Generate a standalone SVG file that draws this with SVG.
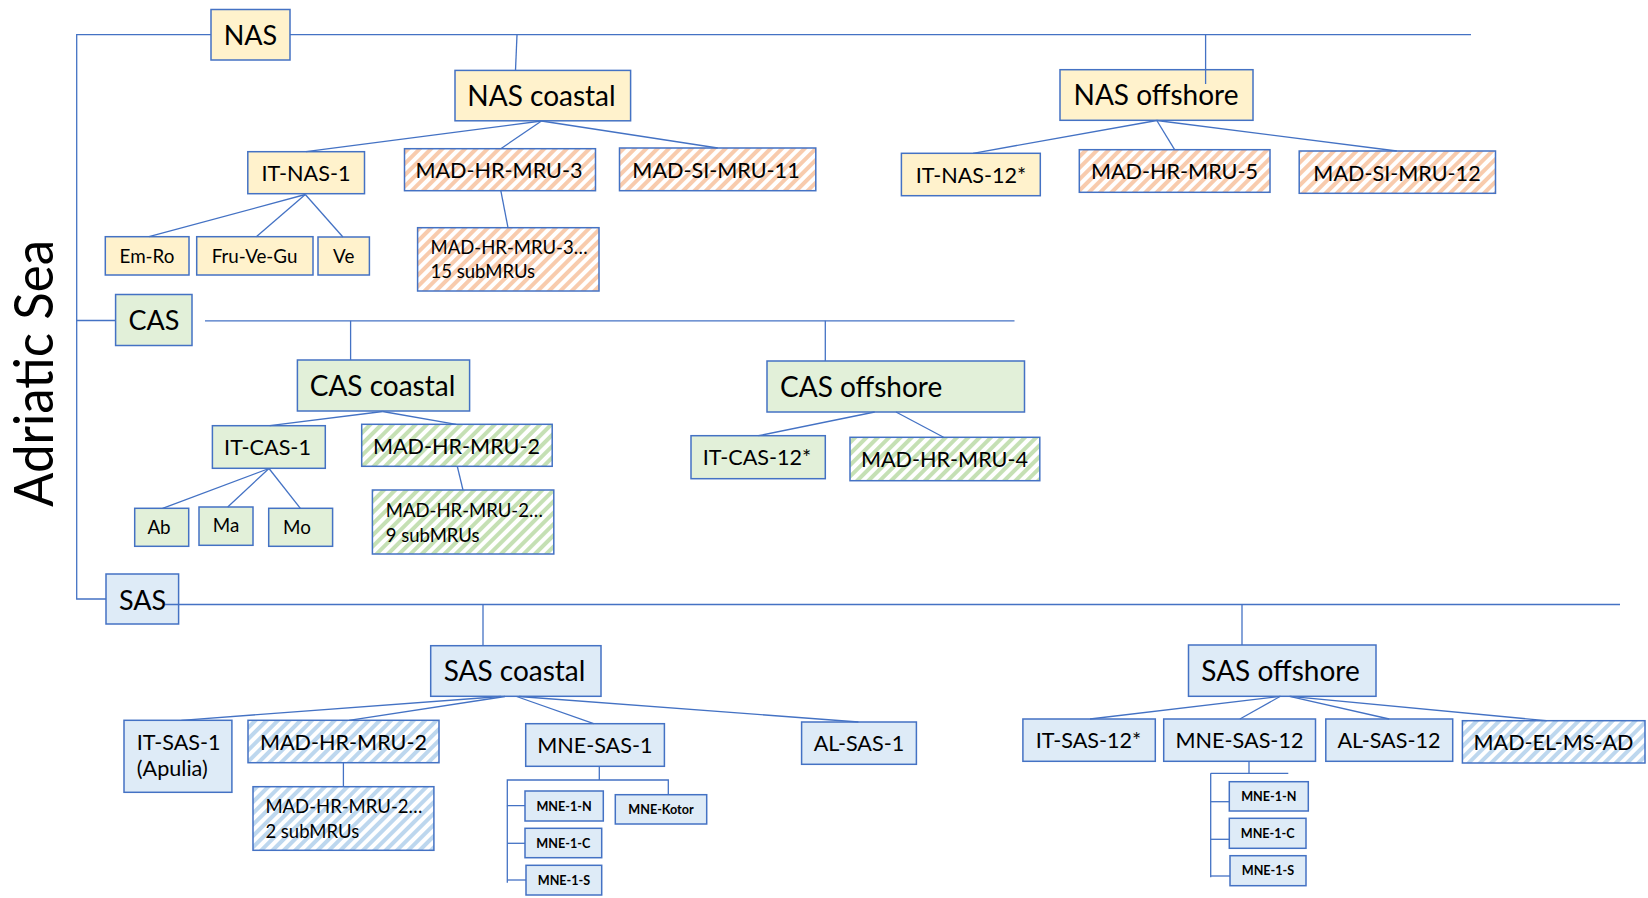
<svg xmlns="http://www.w3.org/2000/svg" width="1648" height="898" viewBox="0 0 1648 898">
<style>
.b{stroke:#4472C4;stroke-width:1.5}
.y{fill:#FFF2CC}.g{fill:#E2F0D9}.u{fill:#DEEBF7}
.ho{fill:url(#hO)}.hg{fill:url(#hG)}.hu{fill:url(#hU)}
.c line,.c path{stroke:#4472C4;stroke-width:1.3;fill:none}
text{font-family:Lato,"Liberation Sans",Arial,sans-serif;fill:#000}
.m{text-anchor:middle}
.t1{font-size:27px}
.t2{font-size:28px}
.t3{font-size:21.6px}
.t4{font-size:18.8px}
.t5{font-size:18.5px}
.t6{font-size:12.6px;font-weight:bold}
</style>
<defs>
<pattern id="hO" patternUnits="userSpaceOnUse" width="8" height="8" patternTransform="rotate(45)"><rect width="8" height="8" fill="#fff"/><rect width="4" height="8" fill="#F8CBAD"/></pattern>
<pattern id="hG" patternUnits="userSpaceOnUse" width="8" height="8" patternTransform="rotate(45)"><rect width="8" height="8" fill="#fff"/><rect width="4" height="8" fill="#C5E0B4"/></pattern>
<pattern id="hU" patternUnits="userSpaceOnUse" width="8" height="8" patternTransform="rotate(45)"><rect width="8" height="8" fill="#fff"/><rect width="4" height="8" fill="#BDD7EE"/></pattern>
</defs>
<rect width="1648" height="898" fill="#fff"/>
<text id="title" class="m" transform="translate(53,373.5) rotate(-90)" font-size="54" textLength="267" lengthAdjust="spacingAndGlyphs">Adriatic Sea</text>

<g id="NAS"><rect class="b y" x="211" y="9.5" width="79" height="50.5"/><text class="t1 m" x="250.5" y="44.5">NAS</text></g>
<g id="NAS-coastal"><rect class="b y" x="455" y="70.4" width="175.6" height="50.4"/><text class="t2 m" x="541.5" y="105.5">NAS coastal</text></g>
<g id="NAS-offshore"><rect class="b y" x="1060" y="69.7" width="193" height="50.6"/><text class="t2 m" x="1156" y="105">NAS offshore</text></g>
<g id="IT-NAS-1"><rect class="b y" x="247.8" y="151.7" width="116.7" height="42"/><text class="t3 m" x="306" y="180.5">IT-NAS-1</text></g>
<g id="MAD-HR-MRU-3"><rect class="b ho" x="404.5" y="148.7" width="191" height="42"/><text class="t3 m" x="499" y="178">MAD-HR-MRU-3</text></g>
<g id="MAD-SI-MRU-11"><rect class="b ho" x="619.5" y="148" width="196.3" height="42.7"/><text class="t3 m" x="716" y="177.5">MAD-SI-MRU-11</text></g>
<g id="Em-Ro"><rect class="b y" x="105.3" y="236.7" width="83.7" height="38.3"/><text class="t4 m" x="147" y="262.5">Em-Ro</text></g>
<g id="Fru-Ve-Gu"><rect class="b y" x="196.7" y="236.7" width="116.3" height="38.3"/><text class="t4 m" x="254.5" y="262.5">Fru-Ve-Gu</text></g>
<g id="Ve"><rect class="b y" x="318" y="237" width="51.4" height="38"/><text class="t4 m" x="343.7" y="262.5">Ve</text></g>
<g id="MAD-HR-MRU-3-sub"><rect class="b ho" x="417.6" y="227.7" width="181.4" height="63.3"/><text class="t5" x="430.6" y="254">MAD-HR-MRU-3…</text><text class="t5" x="430.6" y="278.3">15 subMRUs</text></g>
<g id="IT-NAS-12"><rect class="b y" x="901.4" y="153.3" width="138.9" height="42.4"/><text class="t3 m" x="971" y="183">IT-NAS-12*</text></g>
<g id="MAD-HR-MRU-5"><rect class="b ho" x="1079.3" y="149.7" width="190.7" height="42.6"/><text class="t3 m" x="1174.5" y="179">MAD-HR-MRU-5</text></g>
<g id="MAD-SI-MRU-12"><rect class="b ho" x="1299.2" y="151" width="196.3" height="42.3"/><text class="t3 m" x="1397" y="180.5">MAD-SI-MRU-12</text></g>

<g id="CAS"><rect class="b g" x="115.6" y="294.5" width="76.4" height="51"/><text class="t1 m" x="154" y="330">CAS</text></g>
<g id="CAS-coastal"><rect class="b g" x="297.4" y="360" width="172.2" height="51"/><text class="t2 m" x="382.5" y="395.5">CAS coastal</text></g>
<g id="CAS-offshore"><rect class="b g" x="767" y="361" width="257.5" height="51"/><text class="t2" x="780" y="396.5">CAS offshore</text></g>
<g id="IT-CAS-1"><rect class="b g" x="212.4" y="425.7" width="112.9" height="42.6"/><text class="t3 m" x="267.5" y="455">IT-CAS-1</text></g>
<g id="MAD-HR-MRU-2-CAS"><rect class="b hg" x="361.7" y="424.3" width="190.5" height="42"/><text class="t3 m" x="456.5" y="453.5">MAD-HR-MRU-2</text></g>
<g id="Ab"><rect class="b g" x="134.7" y="508.3" width="54" height="38"/><text class="t4 m" x="159" y="534">Ab</text></g>
<g id="Ma"><rect class="b g" x="199" y="507" width="54" height="38.3"/><text class="t4 m" x="226" y="531.5">Ma</text></g>
<g id="Mo"><rect class="b g" x="268.7" y="508.3" width="63.9" height="38"/><text class="t4 m" x="297" y="534">Mo</text></g>
<g id="MAD-HR-MRU-2-CAS-sub"><rect class="b hg" x="372.4" y="490" width="181.4" height="64"/><text class="t5" x="385.8" y="516.7">MAD-HR-MRU-2…</text><text class="t5" x="385.8" y="542.3">9 subMRUs</text></g>
<g id="IT-CAS-12"><rect class="b g" x="691" y="435.7" width="134.3" height="43"/><text class="t3 m" x="757" y="464.5">IT-CAS-12*</text></g>
<g id="MAD-HR-MRU-4"><rect class="b hg" x="850" y="437.3" width="189.8" height="43.4"/><text class="t3 m" x="944.5" y="467">MAD-HR-MRU-4</text></g>

<g id="SAS"><rect class="b u" x="106" y="574" width="72.6" height="50"/><text class="t1 m" x="142.5" y="609.5">SAS</text></g>
<g id="SAS-coastal"><rect class="b u" x="430.7" y="645.7" width="170.3" height="50.6"/><text class="t2 m" x="514.5" y="681">SAS coastal</text></g>
<g id="SAS-offshore"><rect class="b u" x="1188.5" y="645" width="187.5" height="51.3"/><text class="t2 m" x="1280.5" y="680.5">SAS offshore</text></g>
<g id="IT-SAS-1"><rect class="b u" x="124" y="720.3" width="107.9" height="72"/><text class="t3" x="136.8" y="750">IT-SAS-1</text><text class="t3" x="136.8" y="776">(Apulia)</text></g>
<g id="MAD-HR-MRU-2-SAS"><rect class="b hu" x="248" y="720.3" width="191" height="42.4"/><text class="t3 m" x="343.5" y="749.5">MAD-HR-MRU-2</text></g>
<g id="MNE-SAS-1"><rect class="b u" x="525.7" y="723.7" width="138.7" height="42.6"/><text class="t3 m" x="594.8" y="753">MNE-SAS-1</text></g>
<g id="AL-SAS-1"><rect class="b u" x="801.6" y="722" width="114.8" height="42.3"/><text class="t3 m" x="859" y="751">AL-SAS-1</text></g>
<g id="MAD-HR-MRU-2-SAS-sub"><rect class="b hu" x="253" y="786.7" width="180.9" height="63.6"/><text class="t5" x="265.4" y="813.3">MAD-HR-MRU-2…</text><text class="t5" x="265.4" y="838.3">2 subMRUs</text></g>
<g id="MNE-1-N-a"><rect class="b u" x="525" y="791" width="78.3" height="30"/><text class="t6 m" x="564" y="810.5">MNE-1-N</text></g>
<g id="MNE-1-C-a"><rect class="b u" x="525" y="828.3" width="76.7" height="29.4"/><text class="t6 m" x="563.3" y="847.5">MNE-1-C</text></g>
<g id="MNE-1-S-a"><rect class="b u" x="526" y="865.3" width="75.7" height="29.7"/><text class="t6 m" x="564" y="884.5">MNE-1-S</text></g>
<g id="MNE-Kotor"><rect class="b u" x="615.3" y="794.7" width="91.4" height="29.3"/><text class="t6 m" x="661" y="814">MNE-Kotor</text></g>
<g id="IT-SAS-12"><rect class="b u" x="1022.9" y="719" width="132.4" height="42.3"/><text class="t3 m" x="1088.5" y="748">IT-SAS-12*</text></g>
<g id="MNE-SAS-12"><rect class="b u" x="1163.7" y="719" width="151.8" height="42.3"/><text class="t3 m" x="1239.5" y="748">MNE-SAS-12</text></g>
<g id="AL-SAS-12"><rect class="b u" x="1325.8" y="719" width="126.9" height="42.3"/><text class="t3 m" x="1389" y="748">AL-SAS-12</text></g>
<g id="MAD-EL-MS-AD"><rect class="b hu" x="1462.4" y="720.7" width="182.6" height="42.3"/><text class="t3 m" x="1553.5" y="750">MAD-EL-MS-AD</text></g>
<g id="MNE-1-N-b"><rect class="b u" x="1229.3" y="781.7" width="79" height="29.3"/><text class="t6 m" x="1268.8" y="800.5">MNE-1-N</text></g>
<g id="MNE-1-C-b"><rect class="b u" x="1229.3" y="818.3" width="76.7" height="30"/><text class="t6 m" x="1267.7" y="837.5">MNE-1-C</text></g>
<g id="MNE-1-S-b"><rect class="b u" x="1230" y="855.7" width="76" height="30"/><text class="t6 m" x="1268" y="875">MNE-1-S</text></g>

<g id="connectors" class="c">
<path d="M211 34.7H76.7V599H106"/>
<line x1="290" y1="34.7" x2="1471" y2="34.7"/>
<line x1="517" y1="34.7" x2="515.5" y2="70.4"/>
<line x1="1205.6" y1="34.7" x2="1205.6" y2="84"/>
<line x1="541.5" y1="121" x2="306" y2="151.7"/>
<line x1="541.5" y1="121" x2="500.8" y2="148.7"/>
<line x1="541.5" y1="121" x2="717.7" y2="148"/>
<line x1="305.3" y1="194.5" x2="149" y2="236.7"/>
<line x1="305.3" y1="194.5" x2="256.3" y2="236.7"/>
<line x1="305.3" y1="194.5" x2="342.9" y2="237"/>
<line x1="500.8" y1="190.7" x2="508" y2="227.7"/>
<line x1="1156.8" y1="120.5" x2="973" y2="153.3"/>
<line x1="1156.8" y1="120.5" x2="1174.6" y2="149.7"/>
<line x1="1156.8" y1="120.5" x2="1396.8" y2="151"/>
<line x1="76.7" y1="320.5" x2="115.6" y2="320.5"/>
<line x1="205" y1="320.8" x2="1014.5" y2="320.8"/>
<line x1="350.6" y1="320.8" x2="350.6" y2="360"/>
<line x1="825.3" y1="320.8" x2="825.3" y2="361"/>
<line x1="382.7" y1="411.5" x2="269.8" y2="425.7"/>
<line x1="382.7" y1="411.5" x2="456.2" y2="424.3"/>
<line x1="269" y1="468.5" x2="162.6" y2="508.3"/>
<line x1="269" y1="468.5" x2="227.7" y2="507"/>
<line x1="269" y1="468.5" x2="300.4" y2="508.3"/>
<line x1="457.3" y1="466.3" x2="463" y2="490"/>
<line x1="874.7" y1="412" x2="758.4" y2="435.7"/>
<line x1="896" y1="412" x2="943.6" y2="437.3"/>
<line x1="165" y1="604.5" x2="1620" y2="604.5"/>
<line x1="483" y1="604.5" x2="483" y2="645.7"/>
<line x1="1242" y1="604.5" x2="1242" y2="645"/>
<line x1="501" y1="696.5" x2="181.4" y2="720.3"/>
<line x1="505" y1="696.5" x2="349" y2="720.3"/>
<line x1="516.5" y1="696.5" x2="593.7" y2="723.7"/>
<line x1="519" y1="696.5" x2="858.4" y2="722"/>
<line x1="343.4" y1="762.7" x2="343.4" y2="786.7"/>
<line x1="599.3" y1="766.3" x2="599.3" y2="780"/>
<path d="M525 805.7H507.3V780H668.3V794.7"/>
<line x1="507.3" y1="805.7" x2="507.3" y2="882.7"/>
<line x1="507.3" y1="843.3" x2="525" y2="843.3"/>
<line x1="507.3" y1="880" x2="526" y2="880"/>
<line x1="1280.4" y1="696.3" x2="1090" y2="719"/>
<line x1="1280.4" y1="696.3" x2="1239.9" y2="719"/>
<line x1="1289.5" y1="696.3" x2="1389.2" y2="719"/>
<line x1="1290" y1="696.3" x2="1546.4" y2="720.7"/>
<line x1="1249" y1="761.3" x2="1249" y2="773.3"/>
<line x1="1210.7" y1="773.3" x2="1288.3" y2="773.3"/>
<line x1="1210.7" y1="773.3" x2="1210.7" y2="877.3"/>
<line x1="1210.7" y1="801.7" x2="1229.3" y2="801.7"/>
<line x1="1210.7" y1="839.3" x2="1229.3" y2="839.3"/>
<line x1="1210.7" y1="876" x2="1230" y2="876"/>
</g>
</svg>
